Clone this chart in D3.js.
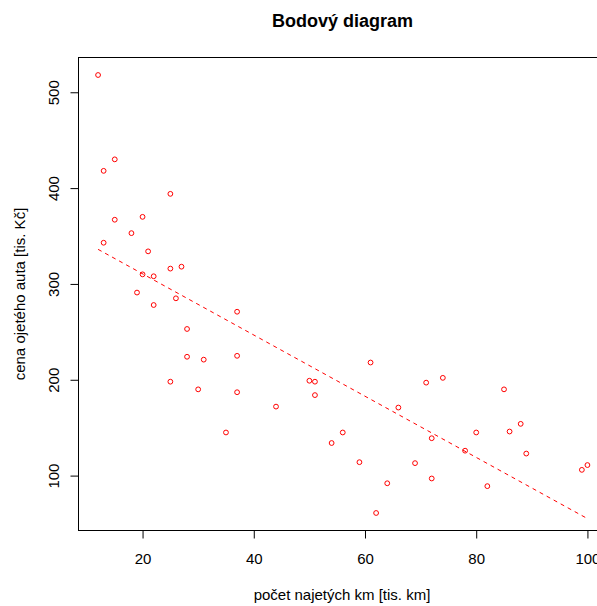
<!DOCTYPE html>
<html>
<head>
<meta charset="utf-8">
<script src="https://cdn.jsdelivr.net/npm/d3@7/dist/d3.min.js"></script>
<style>
  html, body { margin: 0; padding: 0; background: #fff; }
  svg { display: block; font-family: "Liberation Sans", Arial, sans-serif; }
</style>
</head>
<body>
<svg id="chart" width="597" height="606"></svg>
<script>
// Mileage of used cars [thousand km] and their price [thousand CZK]
const mileage = [12, 15, 13, 25, 15, 20, 18, 13, 21, 25, 27, 20, 22, 19, 26, 22, 37, 28, 28, 31,
                 37, 25, 30, 37, 35, 61, 50, 51, 51, 71, 44, 66, 56, 54, 59, 69, 64, 62, 74, 85,
                 88, 80, 86, 72, 78, 89, 72, 82, 99, 100];
const price   = [518, 430, 418, 394, 367, 370, 353, 343, 334, 316, 318, 310, 308, 291, 285, 278, 271, 253, 224, 221,
                 225, 198, 190, 187, 145, 218, 199, 198, 184, 197, 172, 171, 145, 134, 114, 113, 92, 61, 202, 190,
                 154, 145, 146, 139, 126, 123, 97, 89, 106, 111];
const xTicks = [20, 40, 60, 80, 100];
const yTicks = [100, 200, 300, 400, 500];

const titleText = "Bodový diagram";
const xLabel = "počet najetých km [tis. km]";
const yLabel = "cena ojetého auta [tis. Kč]";

const svg = d3.select("#chart");
const box = { left: 78.5, top: 57.5, right: 607, bottom: 530.5 };

// R-style 4% padding around the data range
function padded(vals) {
  const [lo, hi] = d3.extent(vals);
  const p = (hi - lo) * 0.04;
  return [lo - p, hi + p];
}

const x = d3.scaleLinear().domain(padded(mileage)).range([box.left, box.right]);
const y = d3.scaleLinear().domain(padded(price)).range([box.bottom, box.top]);

// plot frame
svg.append("rect")
  .attr("x", box.left).attr("y", box.top)
  .attr("width", box.right - box.left).attr("height", box.bottom - box.top)
  .attr("fill", "none").attr("stroke", "#000").attr("stroke-width", 1);

// x axis
const gx = svg.append("g")
  .attr("transform", `translate(0,${box.bottom})`)
  .call(d3.axisBottom(x).tickValues(xTicks).tickSize(8).tickFormat(d3.format("d")));
gx.select(".domain").remove();
gx.selectAll(".tick line").attr("stroke", "#000");
gx.selectAll(".tick text")
  .attr("y", 33).attr("dy", 0)
  .attr("fill", "#000").style("font-size", "15px").style("font-family", "Liberation Sans, Arial, sans-serif");

// y axis with rotated labels
const gy = svg.append("g")
  .attr("transform", `translate(${box.left},0)`)
  .call(d3.axisLeft(y).tickValues(yTicks).tickSize(8).tickFormat(d3.format("d")));
gy.select(".domain").remove();
gy.selectAll(".tick line").attr("stroke", "#000");
gy.selectAll(".tick text")
  .attr("transform", "rotate(-90)")
  .attr("x", 0).attr("y", -19.5).attr("dy", 0)
  .attr("text-anchor", "middle")
  .attr("fill", "#000").style("font-size", "15px").style("font-family", "Liberation Sans, Arial, sans-serif");

// least-squares fit of price on mileage
const mx = d3.mean(mileage), my = d3.mean(price);
const sxy = d3.sum(mileage, (v, i) => (v - mx) * (price[i] - my));
const sxx = d3.sum(mileage, v => (v - mx) * (v - mx));
const slope = sxy / sxx;
const intercept = my - slope * mx;
const fitX = d3.extent(mileage);
const fitPts = fitX.map(v => [v, intercept + slope * v]);

svg.append("path")
  .datum(fitPts)
  .attr("d", d3.line().x(d => x(d[0])).y(d => y(d[1])))
  .attr("fill", "none")
  .attr("stroke", "#ff0000")
  .attr("stroke-width", 1)
  .attr("stroke-dasharray", "4,4");

// observations
svg.append("g")
  .selectAll("circle")
  .data(mileage.map((m, i) => [m, price[i]]))
  .join("circle")
  .attr("cx", d => x(d[0]))
  .attr("cy", d => y(d[1]))
  .attr("r", 2.4)
  .attr("fill", "none")
  .attr("stroke", "#ff0000")
  .attr("stroke-width", 1);

// titles
svg.append("text")
  .attr("x", 342.5).attr("y", 27)
  .attr("text-anchor", "middle")
  .style("font-size", "18px").style("font-weight", "bold")
  .text(titleText);

svg.append("text")
  .attr("x", 342).attr("y", 600)
  .attr("text-anchor", "middle")
  .style("font-size", "15px")
  .text(xLabel);

svg.append("text")
  .attr("transform", `translate(25,${(box.top + box.bottom) / 2}) rotate(-90)`)
  .attr("text-anchor", "middle")
  .style("font-size", "15px")
  .text(yLabel);
</script>
</body>
</html>
